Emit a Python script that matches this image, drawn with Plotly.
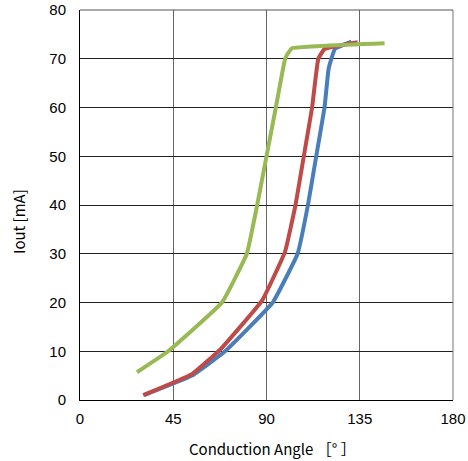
import plotly.graph_objects as go

blue_x = [31, 54, 70, 93, 105, 110, 114, 118, 120, 123, 131]
blue_y = [1, 5, 10, 20, 30, 40, 50, 60, 68, 72, 73.5]
red_x = [30.5, 54, 68, 88, 99, 104, 108, 112, 115, 118, 134]
red_y = [1, 5.3, 10.5, 20.5, 30.5, 40, 50, 60, 70, 72, 73.4]
green_x = [27.5, 42.5, 68.5, 80.5, 85.5, 90, 94.5, 99, 101, 102.5, 147]
green_y = [5.7, 10, 20, 30, 40, 50, 60, 70, 71.5, 72.2, 73.2]

x_ticks = [0, 45, 90, 135, 180]
y_ticks = [0, 10, 20, 30, 40, 50, 60, 70, 80]

fig = go.Figure()
for xs, ys, c in [(blue_x, blue_y, "#4a7ebb"), (red_x, red_y, "#be4b48"), (green_x, green_y, "#98b954")]:
    fig.add_trace(go.Scatter(x=xs, y=ys, mode="lines",
                             line=dict(color=c, width=4, shape="spline", smoothing=0.3),
                             showlegend=False))

font = "Liberation Sans, Arial, sans-serif"
fig.update_layout(
    width=468, height=461,
    margin=dict(l=80, r=15, t=10, b=61),
    plot_bgcolor="white", paper_bgcolor="white",
    font=dict(family=font, size=14, color="black"),
    xaxis=dict(range=[0, 180], tickvals=x_ticks, showgrid=True, gridcolor="#666", gridwidth=1,
               showline=True, linecolor="black", linewidth=1, ticks="", zeroline=False,
               tickfont=dict(size=15), automargin=False, ticklabelstandoff=5),
    yaxis=dict(range=[0, 80], tickvals=y_ticks, showgrid=True, gridcolor="#222", gridwidth=1,
               showline=True, linecolor="black", linewidth=1, ticks="", zeroline=False,
               tickfont=dict(size=15), automargin=False, ticklabelstandoff=10),
)
fig.add_shape(type="line", xref="paper", yref="paper", x0=1, x1=1, y0=0, y1=1,
              line=dict(color="#777", width=1))
fig.add_shape(type="line", xref="paper", yref="paper", x0=0, x1=1, y0=1, y1=1,
              line=dict(color="#555", width=1))
fig.add_annotation(text="Conduction Angle ［° ］", xref="paper", yref="paper",
                   x=(272-80)/373, y=-(448-400)/390, xanchor="center", yanchor="middle",
                   showarrow=False, font=dict(family="Noto Sans CJK JP", size=15))
fig.add_annotation(text="Iout [mA]", xref="paper", yref="paper",
                   x=-(80-18)/373, y=(400-222)/390, xanchor="center", yanchor="middle",
                   textangle=-90, showarrow=False, font=dict(family="Noto Sans CJK JP", size=15))
fig.write_html("out.html")
